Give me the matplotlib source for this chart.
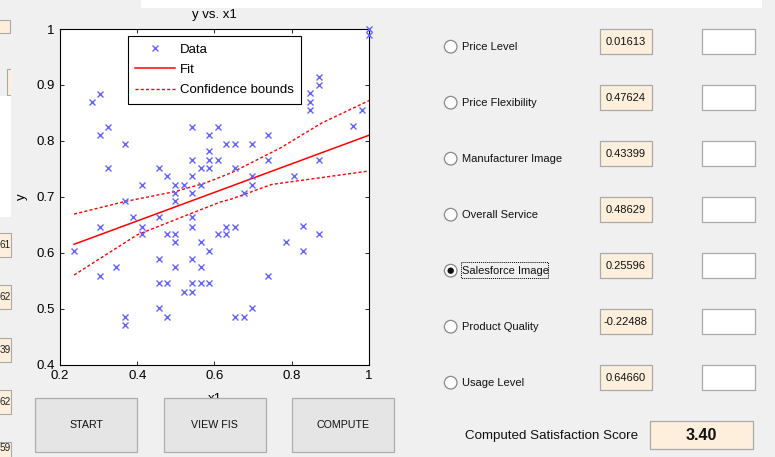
#
# Imports
#
import matplotlib
matplotlib.use("Agg")
import matplotlib.pyplot as plt
from matplotlib.patches import Rectangle, Circle

plt.rcParams['font.family'] = ['Liberation Sans', 'DejaVu Sans']

#
# Data
#
x1 = [0.283, 0.303, 0.303, 0.324, 0.324, 0.368, 0.413, 0.456, 0.477, 0.498,
      0.522, 0.543, 0.543, 0.543, 0.543, 0.565, 0.565, 0.587, 0.587, 0.587,
      0.587, 0.609, 0.609, 0.630, 0.652, 0.652, 0.677, 0.698, 0.698, 0.698,
      0.2365, 0.303, 0.303, 0.346, 0.368, 0.368, 0.368, 0.390, 0.413, 0.413,
      0.456, 0.456, 0.456, 0.456, 0.477, 0.477, 0.477, 0.498, 0.498, 0.498,
      0.498, 0.498, 0.522, 0.543, 0.543, 0.543, 0.543, 0.543, 0.565, 0.565,
      0.565, 0.587, 0.587, 0.609, 0.630, 0.630, 0.652, 0.652, 0.677, 0.698,
      0.739, 0.785, 0.829, 0.829, 0.870,
      1.0, 1.0, 0.870, 0.870, 0.848, 0.848, 0.848, 0.981, 0.959, 0.870,
      0.806, 0.739, 0.739]
y = [0.869, 0.884, 0.811, 0.825, 0.751, 0.795, 0.721, 0.751, 0.737, 0.721,
     0.721, 0.825, 0.765, 0.737, 0.707, 0.751, 0.721, 0.811, 0.781, 0.765,
     0.751, 0.825, 0.765, 0.795, 0.795, 0.751, 0.707, 0.795, 0.737, 0.721,
     0.603, 0.646, 0.559, 0.575, 0.692, 0.485, 0.471, 0.663, 0.646, 0.633,
     0.663, 0.589, 0.545, 0.501, 0.633, 0.545, 0.485, 0.706, 0.692, 0.633,
     0.619, 0.575, 0.529, 0.663, 0.646, 0.589, 0.545, 0.529, 0.619, 0.575,
     0.545, 0.603, 0.545, 0.633, 0.646, 0.633, 0.646, 0.485, 0.485, 0.501,
     0.559, 0.619, 0.648, 0.603, 0.633,
     1.0, 0.99, 0.914, 0.899, 0.885, 0.870, 0.855, 0.855, 0.826, 0.765,
     0.738, 0.811, 0.765]

fit_x = [0.2365, 1.0]
fit_y = [0.615, 0.810]

upper_x = [0.2365, 0.365, 0.496, 0.574, 0.644, 0.77, 0.878, 1.0]
upper_y = [0.669, 0.691, 0.709, 0.724, 0.743, 0.787, 0.832, 0.872]
lower_x = [0.2365, 0.4, 0.539, 0.617, 0.644, 0.748, 1.0]
lower_y = [0.560, 0.632, 0.670, 0.691, 0.696, 0.722, 0.746]

# GUI panel contents
inputs = ["Price Level", "Price Flexibility", "Manufacturer Image", "Overall Service",
          "Salesforce Image", "Product Quality", "Usage Level"]
coefs = ["0.01613", "0.47624", "0.43399", "0.48629", "0.25596", "-0.22488", "0.64660"]
selected = "Salesforce Image"
buttons = ["START", "VIEW FIS", "COMPUTE"]
score = "3.40"
side_vals = ["61", "62", "39", "62", "59"]

BEIGE = '#fdefdb'
GRAY_EDGE = '#a9a9a9'

#
# Figure
#
W, H = 775, 457
fig = plt.figure(figsize=(W / 100, H / 100), dpi=100, facecolor='#f0f0f0')

# Scatter / fit axes
ax = fig.add_axes([60 / W, (H - 364.5) / H, 309 / W, 335.5 / H])
ax.plot(x1, y, 'x', color='#6464ff', ms=5, mew=1.0, label='Data', clip_on=False, zorder=3)
ax.plot(fit_x, fit_y, '-', color='red', lw=1.1, label='Fit')
ax.plot(upper_x, upper_y, '--', color='red', lw=1.0, dashes=(2.2, 1.6), label='Confidence bounds')
ax.plot(lower_x, lower_y, '--', color='red', lw=1.0, dashes=(2.2, 1.6))
ax.set_xlim(0.2, 1.0)
ax.set_ylim(0.4, 1.0)
ax.set_xticks([0.2, 0.4, 0.6, 0.8, 1.0])
ax.set_xticklabels(['0.2', '0.4', '0.6', '0.8', '1'])
ax.set_yticks([0.4, 0.5, 0.6, 0.7, 0.8, 0.9, 1.0])
ax.set_yticklabels(['0.4', '0.5', '0.6', '0.7', '0.8', '0.9', '1'])
ax.tick_params(direction='in', top=True, right=True, length=3, width=0.6,
               labelsize=9.5, pad=4)
for s in ax.spines.values():
    s.set_linewidth(0.8)
ax.set_title('y vs. x1', fontsize=9.5, pad=8)
ax.set_xlabel('x1', fontsize=9.5, labelpad=8)
ax.set_ylabel('y', fontsize=9.5, labelpad=6)
leg = ax.legend(loc='upper left', bbox_to_anchor=(0.220, 0.979), borderaxespad=0,
                fancybox=False, framealpha=1, edgecolor='black', fontsize=9.5,
                handlelength=3.0, handletextpad=0.4, labelspacing=0.62,
                borderpad=0.55)
leg.get_frame().set_linewidth(0.8)

# Overlay in pixel coordinates for the GUI widgets
ui = fig.add_axes([0, 0, 1, 1], zorder=5)
ui.set_xlim(0, W)
ui.set_ylim(H, 0)
ui.axis('off')
ui.patch.set_alpha(0)

# white band at top and left panel pieces
ui.add_patch(Rectangle((141, 0), 621, 8, facecolor='white', edgecolor='none'))
ui.add_patch(Rectangle((0, 96), 11, 121, facecolor='white', edgecolor='none'))
ui.add_patch(Rectangle((-2, 20), 12, 13, facecolor=BEIGE, edgecolor=GRAY_EDGE, lw=0.8))
ui.add_patch(Rectangle((7.3, 69), 10, 26, facecolor=BEIGE, edgecolor=GRAY_EDGE, lw=0.8))
ui.add_patch(Rectangle((11, 60), 10, 40, facecolor='#f0f0f0', edgecolor='none'))
for i, v in enumerate(side_vals):
    top = 233 + 52.3 * i
    ui.add_patch(Rectangle((-2, top), 13, 24, facecolor=BEIGE, edgecolor=GRAY_EDGE, lw=0.8))
    ui.text(10.5, min(top + 12, 448), v, ha='right', va='center', fontsize=7.2, color='#222222')

# buttons
for i, b in enumerate(buttons):
    left = 35 + 128.7 * i
    ui.add_patch(Rectangle((left, 397.5), 102, 54, facecolor='#e5e5e5',
                           edgecolor='#adadad', lw=0.9))
    ui.text(left + 51, 425, b, ha='center', va='center', fontsize=7.7, color='#111111')

# input rows
for i, (name, c) in enumerate(zip(inputs, coefs)):
    cy = 46.7 + 56 * i
    by = 29.3 + 56 * i
    ui.add_patch(Circle((450.7, cy), 6.3, facecolor='white', edgecolor='#888888', lw=0.9))
    if name == selected:
        ui.add_patch(Circle((450.7, cy), 3.2, facecolor='#111111', edgecolor='none'))
        ui.add_patch(Rectangle((461, cy - 9), 86.7, 16.6, facecolor='none',
                               edgecolor='black', lw=0.7, linestyle=(0, (1, 1))))
    ui.text(462, cy, name, ha='left', va='center', fontsize=8, color='#111111')
    ui.add_patch(Rectangle((600, by), 52.3, 25, facecolor=BEIGE, edgecolor=GRAY_EDGE, lw=0.9))
    ui.text(626, by + 12.5, c, ha='center', va='center', fontsize=8, color='#111111')
    ui.add_patch(Rectangle((702.3, by), 52.7, 25, facecolor='white', edgecolor=GRAY_EDGE, lw=0.9))

# computed score
ui.text(551.5, 436, 'Computed Satisfaction Score', ha='center', va='center',
        fontsize=9.6, color='#111111')
ui.add_patch(Rectangle((650, 421), 103.3, 28.3, facecolor=BEIGE, edgecolor=GRAY_EDGE, lw=0.9))
ui.text(701.5, 435.5, score, ha='center', va='center', fontsize=11.5,
        fontweight='bold', color='#111111')

fig.savefig('out.png', dpi=100, facecolor=fig.get_facecolor())
